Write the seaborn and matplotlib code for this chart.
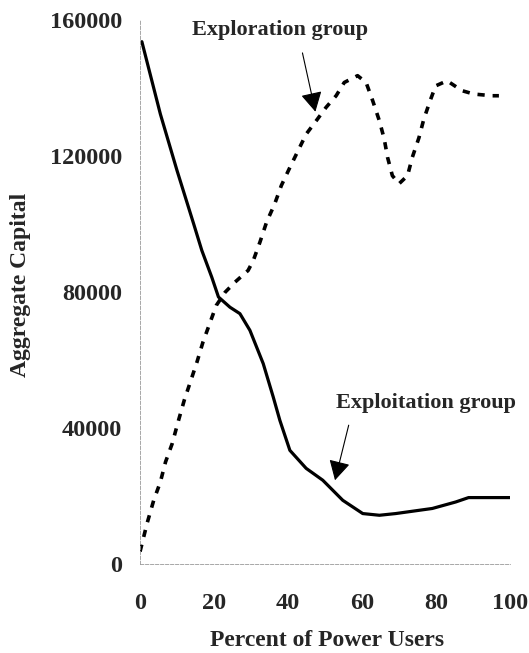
import matplotlib

matplotlib.use("Agg")
import matplotlib.pyplot as plt
import pandas as pd
import seaborn as sns

# percent of power users vs aggregate capital
EXPLOIT_X = [0.5, 5.5, 10.0, 14.5, 16.7, 19.4, 21.2, 24.3, 27.0, 29.7, 33.3,
             36.0, 37.8, 40.5, 44.9, 49.4, 54.8, 60.2, 64.7, 69.1, 79.0, 85.3,
             88.8, 100.0]
EXPLOIT_Y = [153500, 132200, 115600, 99900, 92100, 84200, 78400, 75400, 73500,
             68600, 58800, 49000, 42100, 33300, 28000, 24500, 18600, 14700,
             14200, 14700, 16200, 18100, 19400, 19400]

EXPLORE_X = [0.0, 1.9, 3.7, 5.5, 6.9, 8.7, 10.4, 12.0, 13.6, 15.4, 17.0, 18.8,
             20.6, 23.0, 25.7, 29.2, 30.6, 32.4, 34.2, 36.4, 38.2, 40.5, 42.7,
             44.9, 47.6, 50.3, 53.0, 55.2, 58.8, 61.1, 62.9, 64.7, 66.0, 66.9,
             68.2, 70.0, 72.3, 73.6, 75.4, 76.7, 78.4, 79.9, 83.0, 87.0, 90.2,
             95.1, 97.0]
EXPLORE_Y = [3500, 11800, 18600, 24000, 29900, 35300, 42100, 48200, 53400,
             59300, 65100, 70500, 75900, 79800, 82800, 86200, 89100, 94500,
             100400, 105800, 111200, 116500, 121400, 126300, 130200, 134200,
             137600, 141500, 143500, 141500, 136100, 130200, 124900, 119500,
             114100, 111700, 114100, 119500, 125300, 130700, 136100, 140500,
             142000, 139100, 138100, 137600, 137600]

X_TICKS = [0, 20, 40, 60, 80, 100]
Y_TICKS = [0, 40000, 80000, 120000, 160000]

sns.set_theme(style="white")
plt.rcParams["font.family"] = ["Liberation Serif", "DejaVu Serif"]
plt.rcParams["font.weight"] = "bold"

exploit = pd.DataFrame({"x": EXPLOIT_X, "y": EXPLOIT_Y})
explore = pd.DataFrame({"x": EXPLORE_X, "y": EXPLORE_Y})

fig = plt.figure(figsize=(5.29, 6.53), dpi=100)
ax = fig.add_axes([0.2647, 0.137, 0.6994, 0.833])

sns.lineplot(data=exploit, x="x", y="y", ax=ax, color="black", lw=2.3)
sns.lineplot(data=explore, x="x", y="y", ax=ax, color="black", lw=2.6,
             linestyle=(0, (2, 2.2)))

ax.set_xlim(0, 100)
ax.set_ylim(0, 160000)
ax.set_xticks(X_TICKS)
ax.set_yticks(Y_TICKS)
ax.tick_params(axis="x", direction="in", length=4, width=0.6, color="#888",
               pad=21, labelsize=17.5)
ax.tick_params(axis="y", direction="in", length=4, width=0.6, color="#888",
               pad=13, labelsize=17.5)
for lbl in ax.get_xticklabels() + ax.get_yticklabels():
    lbl.set_fontweight("bold")

for side in ("top", "right"):
    ax.spines[side].set_visible(False)
for side in ("left", "bottom"):
    ax.spines[side].set_color("#999")
    ax.spines[side].set_linewidth(0.6)
    ax.spines[side].set_linestyle((0, (4, 2)))

ax.set_xlabel("Percent of Power Users", fontsize=17, fontweight="bold")
ax.set_ylabel("Aggregate Capital", fontsize=17, fontweight="bold")
ax.xaxis.set_label_coords(0.505, -0.142)
ax.xaxis.label.set_va("center")
ax.yaxis.set_label_coords(-0.322, 0.512)
ax.yaxis.label.set_va("center")

arrow = dict(arrowstyle="-|>,head_length=0.55,head_width=0.3", color="black",
             lw=0.8, mutation_scale=22, shrinkA=0, shrinkB=0)
ax.annotate("", xy=(47.4, 132900), xytext=(43.9, 150200), arrowprops=arrow)
ax.annotate("", xy=(52.7, 24500), xytext=(56.4, 40700), arrowprops=arrow)
ax.text(37.8, 157000, "Exploration group", fontsize=16, fontweight="bold",
        ha="center", va="center")
ax.text(77.2, 47200, "Exploitation group", fontsize=16, fontweight="bold",
        ha="center", va="center")

fig.savefig("out.png", dpi=100, facecolor="white")
